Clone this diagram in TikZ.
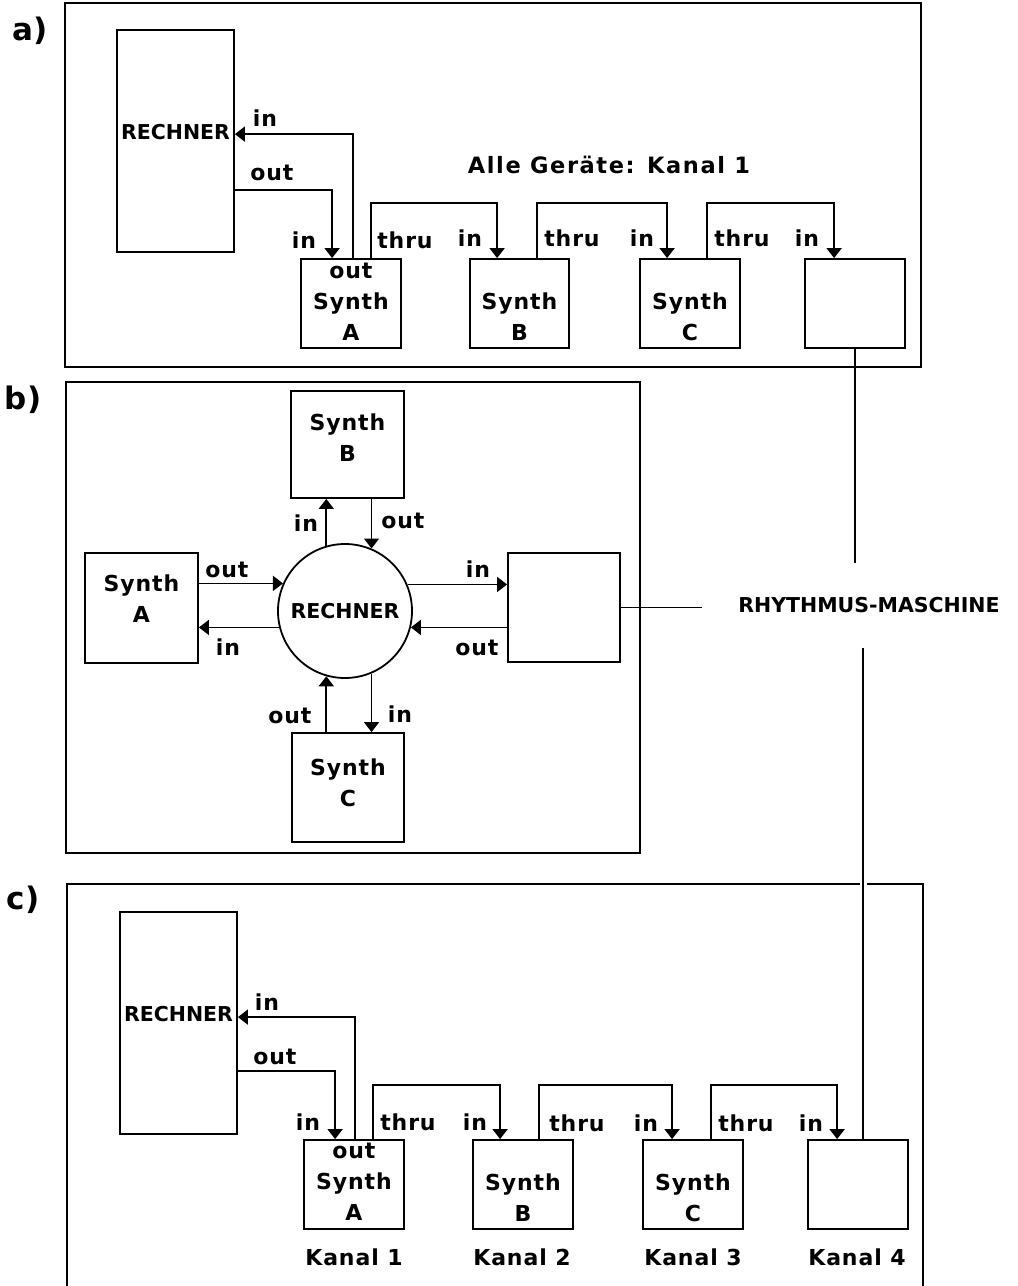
\documentclass[tikz,border=0pt]{standalone}
\usepackage{fontspec}
\setmainfont{DejaVu Sans}
\newfontfamily\lsfont{DejaVu Sans}[LetterSpace=4]
\newfontfamily\wsfont{DejaVu Sans}[LetterSpace=7]
\usetikzlibrary{arrows.meta,calc}
\begin{document}
\begin{tikzpicture}[x=1pt,y=-1pt,
  frame/.style={draw, line width=2pt},
  box/.style={draw, line width=1.8pt, inner sep=0pt},
  sz/.style 2 args={minimum width=#1, minimum height=#2},
  conn/.style={line width=1.6pt},
  arr/.style={conn, -{Triangle[width=15pt,length=10pt]}},
  lbl/.style={font=\lsfont\fontsize{22}{25}\selectfont\bfseries, inner sep=0pt},
  caps/.style={font=\fontsize{20.5}{25}\selectfont\bfseries, inner sep=0pt},
  boxtxt/.style={lbl, align=center, font=\lsfont\fontsize{22}{31}\selectfont\bfseries},
  part/.style={font=\fontsize{31}{34}\selectfont\bfseries, inner sep=0pt}
]
\useasboundingbox (0,0) rectangle (1018,1286);

% ---------- part labels
\node[part] (pa) at (30,31) {a)};
\node[part] (pb) at (23,400) {b)};
\node[part] (pc) at (23,900) {c)};

% ================= a)
\draw[frame] (65,3) rectangle (921,367);
\node[box, sz={117pt}{222pt}] (RAa) at (175.5,141) {};
\node[caps] (tRAa) at ([yshift=9pt]RAa.center) {RECHNER};
\node[box, sz={100pt}{89pt}] (SAa) at (351,303.5) {};
\node[box, sz={99pt}{89pt}] (SBa) at (519.5,303.5) {};
\node[box, sz={100pt}{89pt}] (SCa) at (690,303.5) {};
\node[box, sz={100pt}{89pt}] (Da) at (855,303.5) {};
\node[boxtxt] (tSAa) at ([yshift=2pt]SAa.center) {out\\Synth\\A};
\node[boxtxt] (tSBa) at ([yshift=-13pt]SBa.center) {Synth\\B};
\node[boxtxt] (tSCa) at ([yshift=-13pt]SCa.center) {Synth\\C};

\draw[arr] ([xshift=53pt]SAa.north west) |- ([yshift=-105pt]RAa.north east);
\draw[arr] ([yshift=-161pt]RAa.north east) -| ([xshift=32pt]SAa.north west);
\draw[arr] ([xshift=71pt]SAa.north west) -- ++(0,-55) -| ([xshift=28pt]SBa.north west);
\draw[arr] ([xshift=68pt]SBa.north west) -- ++(0,-55) -| ([xshift=28pt]SCa.north west);
\draw[arr] ([xshift=68pt]SCa.north west) -- ++(0,-55) -| ([xshift=30pt]Da.north west);

\node[lbl] (la1) at (265,118) {in};
\node[lbl] (la2) at (272,173) {out};
\node[lbl] (la3) at (304,240) {in};
\node[lbl] (la4) at (405,240) {thru};
\node[lbl] (la5) at (470,238) {in};
\node[lbl] (la6) at (572,238) {thru};
\node[lbl] (la7) at (642,238) {in};
\node[lbl] (la8) at (742,238) {thru};
\node[lbl] (la9) at (807,238) {in};
\node[lbl, font=\wsfont\fontsize{22.5}{25}\selectfont\bfseries] (alle) at (609,165) {Alle Geräte: Kanal 1};

% ================= b)
\draw[frame] (66,382) rectangle (640,853);
\node[box, sz={113pt}{107pt}] (SBb) at (347.5,444.5) {};
\node[box, sz={113pt}{110pt}] (SAb) at (141.5,608) {};
\node[box, sz={112pt}{109pt}] (Rb) at (564,607.5) {};
\node[box, sz={112pt}{109pt}] (SCb) at (348,787.5) {};
\node[box, circle, minimum size=134pt] (Cb) at (345,611) {};
\node[caps] (tCb) at (Cb.center) {RECHNER};
\node[boxtxt] (tSBb) at ([yshift=7pt]SBb.center) {Synth\\B};
\node[boxtxt] (tSAb) at ([yshift=9pt]SAb.center) {Synth\\A};
\node[boxtxt] (tSCb) at ([yshift=5pt]SCb.center) {Synth\\C};

\draw[arr] (Cb.106.7) -- (SBb.south -| Cb.106.7);
\draw[arr] (SBb.south -| Cb.67.7) -- (Cb.67.7);
\draw[arr] (SAb.east |- Cb.156.8) -- (Cb.156.8);
\draw[arr] (Cb.194.9) -- (SAb.east |- Cb.194.9);
\draw[arr] (Cb.23.2) -- (Rb.west |- Cb.23.2);
\draw[arr] (Rb.west |- Cb.-14.9) -- (Cb.-14.9);
\draw[arr] (Cb.-67.7) -- (SCb.north -| Cb.-67.7);
\draw[arr] (SCb.north -| Cb.-106.7) -- (Cb.-106.7);

\node[lbl] (lb1) at (306,523) {in};
\node[lbl] (lb2) at (403,521) {out};
\node[lbl] (lb3) at (227,570) {out};
\node[lbl] (lb4) at (228,647) {in};
\node[lbl] (lb5) at (478,569) {in};
\node[lbl] (lb6) at (477,648) {out};
\node[lbl] (lb7) at (290,716) {out};
\node[lbl] (lb8) at (400,714) {in};

% ================= rhythmus
\node[caps] (RM) at (869,605) {RHYTHMUS-MASCHINE};
\coordinate (rmTop) at (855,563);
\coordinate (rmLeft) at (702,607.5);
\coordinate (rmBot) at (863,648);
\draw[conn] (Da.south) -- (rmTop);
\draw[conn] (Rb.east) -- (rmLeft);

% ================= c)
\draw[frame] (67,1292) -- (67,884) -- (923,884) -- (923,1292);
\node[box, sz={117pt}{222pt}] (RAc) at (178.5,1023) {};
\node[caps] (tRAc) at ([yshift=9pt]RAc.center) {RECHNER};
\node[box, sz={100pt}{89pt}] (SAc) at (354,1184.5) {};
\node[box, sz={100pt}{89pt}] (SBc) at (523,1184.5) {};
\node[box, sz={100pt}{89pt}] (SCc) at (693,1184.5) {};
\node[box, sz={100pt}{89pt}] (Dc) at (858,1184.5) {};
\node[boxtxt] (tSAc) at ([yshift=2.5pt]SAc.center) {out\\Synth\\A};
\node[boxtxt] (tSBc) at ([yshift=-13pt]SBc.center) {Synth\\B};
\node[boxtxt] (tSCc) at ([yshift=-13pt]SCc.center) {Synth\\C};

\draw[arr] ([xshift=52pt]SAc.north west) |- ([yshift=-106pt]RAc.north east);
\draw[arr] ([yshift=-160pt]RAc.north east) -| ([xshift=32pt]SAc.north west);
\draw[arr] ([xshift=70pt]SAc.north west) -- ++(0,-54) -| ([xshift=28pt]SBc.north west);
\draw[arr] ([xshift=67pt]SBc.north west) -- ++(0,-54) -| ([xshift=30pt]SCc.north west);
\draw[arr] ([xshift=69pt]SCc.north west) -- ++(0,-54) -| ([xshift=30pt]Dc.north west);
\draw[conn, preaction={draw=white, line width=7pt}] (rmBot) -- ([xshift=5pt]Dc.north);

\node[lbl] (lc1) at (267,1002) {in};
\node[lbl] (lc2) at (275,1057) {out};
\node[lbl] (lc3) at (308,1122) {in};
\node[lbl] (lc4) at (408,1122) {thru};
\node[lbl] (lc5) at (475,1122) {in};
\node[lbl] (lc6) at (577,1123) {thru};
\node[lbl] (lc7) at (646,1123) {in};
\node[lbl] (lc8) at (746,1123) {thru};
\node[lbl] (lc9) at (811,1123) {in};
\node[lbl] (k1) at (354,1257) {Kanal 1};
\node[lbl] (k2) at (522,1257) {Kanal 2};
\node[lbl] (k3) at (693,1257) {Kanal 3};
\node[lbl] (k4) at (857,1257) {Kanal 4};
\end{tikzpicture}
\end{document}
